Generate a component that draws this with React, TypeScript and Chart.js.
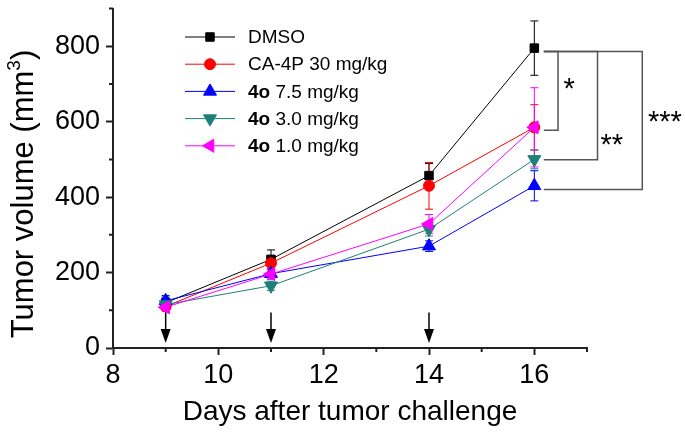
import React, { useEffect, useRef } from 'react';
import { Chart, registerables } from 'chart.js';

Chart.register(...registerables);

// ---------- data ----------
const days = [9, 11, 14, 16];
const seriesNames = ['DMSO', 'CA-4P 30 mg/kg', '4o 7.5 mg/kg', '4o 3.0 mg/kg', '4o 1.0 mg/kg'];
const dmso = [120, 235, 457, 795];
const dmsoErr = [15, 25, 32, 72];
const ca4p = [110, 225, 430, 585];
const ca4pErr = [10, 18, 62, 60];
const o75 = [125, 197, 270, 430];
const o75Err = [14, 14, 14, 40];
const o30 = [115, 165, 315, 500];
const o30Err = [10, 12, 18, 25];
const o10 = [108, 196, 329, 585];
const o10Err = [10, 14, 25, 105];

const xMin = 8;
const xMax = 17;
const xStep = 2;
const xMinorTicks = [9, 11, 13, 15, 17];
const yMin = 0;
const yMax = 900;
const yStep = 200;
const yMinorTicks = [100, 300, 500, 700, 900];

const xTitle = 'Days after tumor challenge';
const yTitleMain = 'Tumor volume (mm';
const yTitleSup = '3';
const yTitleEnd = ')';

// treatment arrows (day, value range)
const arrowDays = [9, 11, 14];
const arrowTop = 94;
const arrowTip = 13;

// significance brackets
const bracketStart = 16.18;
const bracketX = [16.45, 17.2, 18.05];
const bracketTop = [786, 786, 786];
const bracketBottom = [577, 499, 420];
const bracketLabels = ['*', '**', '***'];
const bracketLabelX = [16.66, 17.47, 18.48];
const bracketLabelY = [700, 552, 612];

// ---------- styles ----------
const seriesValues = [dmso, ca4p, o75, o30, o10];
const seriesErrors = [dmsoErr, ca4pErr, o75Err, o30Err, o10Err];
const colors = ['#000000', '#ff0000', '#0000ff', '#1e8078', '#ff00ff'];
const pointStyles = ['rect', 'circle', 'triangle', 'triangle', 'triangle'];
const pointRotations = [0, 0, 0, 180, 270];
const pointRadii = [6, 5.5, 7.5, 7.5, 7.5];
const FONT = "'Liberation Sans', Arial, sans-serif";
const AXIS_COLOR = '#222222';

function drawMarker(ctx: CanvasRenderingContext2D, style: string, rotation: number, r: number, x: number, y: number, color: string) {
  ctx.save();
  ctx.fillStyle = color;
  ctx.strokeStyle = color;
  ctx.lineWidth = 1;
  ctx.beginPath();
  if (style === 'rect') {
    const s = Math.SQRT1_2 * r;
    ctx.rect(x - s, y - s, 2 * s, 2 * s);
  } else if (style === 'circle') {
    ctx.arc(x, y, r, 0, Math.PI * 2);
  } else {
    let rad = (rotation * Math.PI) / 180;
    ctx.moveTo(x + Math.sin(rad) * r, y - Math.cos(rad) * r);
    rad += (2 * Math.PI) / 3;
    ctx.lineTo(x + Math.sin(rad) * r, y - Math.cos(rad) * r);
    rad += (2 * Math.PI) / 3;
    ctx.lineTo(x + Math.sin(rad) * r, y - Math.cos(rad) * r);
    ctx.closePath();
  }
  ctx.fill();
  ctx.stroke();
  ctx.restore();
}

const extrasPlugin = {
  id: 'extras',
  beforeDatasetsDraw(chart: any) {
    const ctx: CanvasRenderingContext2D = chart.ctx;
    const xs = chart.scales.x;
    const ys = chart.scales.y;
    ctx.save();
    seriesValues.forEach((vals, i) => {
      ctx.strokeStyle = colors[i];
      ctx.lineWidth = 1;
      vals.forEach((v, j) => {
        const e = seriesErrors[i][j];
        const x = xs.getPixelForValue(days[j]);
        const yt = ys.getPixelForValue(v + e);
        const yb = ys.getPixelForValue(v - e);
        ctx.beginPath();
        ctx.moveTo(x, yt);
        ctx.lineTo(x, yb);
        ctx.moveTo(x - 4, yt);
        ctx.lineTo(x + 4, yt);
        ctx.moveTo(x - 4, yb);
        ctx.lineTo(x + 4, yb);
        ctx.stroke();
      });
    });
    ctx.restore();
  },
  afterDraw(chart: any) {
    const ctx: CanvasRenderingContext2D = chart.ctx;
    const xs = chart.scales.x;
    const ys = chart.scales.y;
    const area = chart.chartArea;
    ctx.save();

    // minor ticks
    ctx.strokeStyle = AXIS_COLOR;
    ctx.lineWidth = 2;
    ctx.beginPath();
    xMinorTicks.forEach((t) => {
      const x = xs.getPixelForValue(t);
      ctx.moveTo(x, area.bottom);
      ctx.lineTo(x, area.bottom + 4);
    });
    yMinorTicks.forEach((t) => {
      const y = ys.getPixelForValue(t);
      ctx.moveTo(area.left, y);
      ctx.lineTo(area.left - 4, y);
    });
    ctx.stroke();

    // arrows
    ctx.strokeStyle = '#000';
    ctx.fillStyle = '#000';
    ctx.lineWidth = 1.5;
    arrowDays.forEach((d) => {
      const x = xs.getPixelForValue(d);
      const yTop = ys.getPixelForValue(arrowTop);
      const yTip = ys.getPixelForValue(arrowTip);
      ctx.beginPath();
      ctx.moveTo(x, yTop);
      ctx.lineTo(x, yTip - 10);
      ctx.stroke();
      ctx.beginPath();
      ctx.moveTo(x - 5, yTip - 14);
      ctx.lineTo(x + 5, yTip - 14);
      ctx.lineTo(x, yTip);
      ctx.closePath();
      ctx.fill();
    });

    // brackets
    ctx.strokeStyle = '#555';
    ctx.lineWidth = 1.5;
    const x0 = xs.getPixelForValue(bracketStart);
    bracketX.forEach((bx, i) => {
      const x = xs.getPixelForValue(bx);
      const yt = ys.getPixelForValue(bracketTop[i]);
      const yb = ys.getPixelForValue(bracketBottom[i]);
      ctx.beginPath();
      ctx.moveTo(x0, yt);
      ctx.lineTo(x, yt);
      ctx.lineTo(x, yb);
      ctx.lineTo(x0, yb);
      ctx.stroke();
    });
    ctx.fillStyle = '#000';
    ctx.font = `29px ${FONT}`;
    ctx.textAlign = 'center';
    ctx.textBaseline = 'middle';
    bracketLabels.forEach((lab, i) => {
      ctx.fillText(lab, xs.getPixelForValue(bracketLabelX[i]), ys.getPixelForValue(bracketLabelY[i]) + 6);
    });

    // legend
    const lx0 = 185;
    const lx1 = 235;
    const lmx = 210;
    const ltx = 248;
    seriesNames.forEach((name, i) => {
      const y = 37 + i * 27.2;
      ctx.strokeStyle = colors[i];
      ctx.lineWidth = 1;
      ctx.beginPath();
      ctx.moveTo(lx0, y);
      ctx.lineTo(lx1, y);
      ctx.stroke();
      drawMarker(ctx, pointStyles[i], pointRotations[i], pointRadii[i], lmx, y, colors[i]);
      ctx.fillStyle = '#000';
      ctx.textAlign = 'left';
      ctx.textBaseline = 'middle';
      let tx = ltx;
      let rest = name;
      if (name.startsWith('4o')) {
        ctx.font = `bold 19px ${FONT}`;
        ctx.fillText('4o', tx, y + 1);
        tx += ctx.measureText('4o').width;
        rest = name.slice(2);
      }
      ctx.font = `19px ${FONT}`;
      ctx.fillText(rest, tx, y + 1);
    });

    // x title
    ctx.fillStyle = '#000';
    ctx.font = `28px ${FONT}`;
    ctx.textAlign = 'center';
    ctx.textBaseline = 'alphabetic';
    ctx.fillText(xTitle, (area.left + area.right) / 2, 420);

    // y title (rotated, with superscript)
    ctx.save();
    ctx.translate(33, 194);
    ctx.rotate(-Math.PI / 2);
    ctx.textAlign = 'left';
    ctx.font = `31px ${FONT}`;
    const w1 = ctx.measureText(yTitleMain).width;
    const w3 = ctx.measureText(yTitleEnd).width;
    ctx.font = `19px ${FONT}`;
    const w2 = ctx.measureText(yTitleSup).width;
    const start = -(w1 + w2 + w3) / 2;
    ctx.font = `31px ${FONT}`;
    ctx.fillText(yTitleMain, start, 0);
    ctx.font = `19px ${FONT}`;
    ctx.fillText(yTitleSup, start + w1, -13);
    ctx.font = `31px ${FONT}`;
    ctx.fillText(yTitleEnd, start + w1 + w2, 0);
    ctx.restore();

    ctx.restore();
  },
};

export default function App() {
  const canvasRef = useRef<HTMLCanvasElement | null>(null);

  useEffect(() => {
    document.body.style.margin = '0';
    const canvas = canvasRef.current;
    if (!canvas) return;
    const datasets = seriesNames.map((name, i) => ({
      label: name,
      data: days.map((d, j) => ({ x: d, y: seriesValues[i][j] })),
      borderColor: colors[i],
      backgroundColor: colors[i],
      borderWidth: 1,
      pointStyle: pointStyles[i] as any,
      pointRotation: pointRotations[i],
      pointRadius: pointRadii[i],
      pointBorderWidth: 1,
      pointBorderColor: colors[i],
      pointBackgroundColor: colors[i],
      tension: 0,
      clip: false as any,
      order: seriesNames.length - i,
    }));

    const chart = new Chart(canvas, {
      type: 'line',
      data: { datasets },
      options: {
        responsive: false,
        maintainAspectRatio: false,
        animation: false,
        devicePixelRatio: 1,
        layout: { padding: { top: -4, right: 98, left: 0, bottom: 0 } },
        plugins: {
          legend: { display: false },
          tooltip: { enabled: false },
        },
        scales: {
          x: {
            type: 'linear',
            min: xMin,
            max: xMax,
            afterFit: (scale: any) => {
              scale.height = 91;
              scale.paddingLeft = 0;
              scale.paddingRight = 0;
            },
            border: { display: true, color: AXIS_COLOR, width: 2 },
            grid: {
              drawOnChartArea: false,
              drawTicks: true,
              tickLength: 7,
              tickWidth: 2,
              tickColor: AXIS_COLOR,
            },
            ticks: {
              stepSize: xStep,
              includeBounds: false,
              color: '#000',
              padding: 4,
              maxRotation: 0,
              font: { family: FONT, size: 27 },
            },
          },
          y: {
            type: 'linear',
            min: yMin,
            max: yMax,
            afterFit: (scale: any) => {
              scale.width = 113;
              scale.paddingTop = 0;
              scale.paddingBottom = 0;
            },
            border: { display: true, color: AXIS_COLOR, width: 2 },
            grid: {
              drawOnChartArea: false,
              drawTicks: true,
              tickLength: 7,
              tickWidth: 2,
              tickColor: AXIS_COLOR,
            },
            ticks: {
              stepSize: yStep,
              includeBounds: false,
              color: '#000',
              padding: 6,
              font: { family: FONT, size: 27 },
            },
          },
        },
      },
      plugins: [extrasPlugin],
    });
    return () => chart.destroy();
  }, []);

  return (
    <div style={{ width: 685, height: 439 }}>
      <canvas ref={canvasRef} width={685} height={439} />
    </div>
  );
}
